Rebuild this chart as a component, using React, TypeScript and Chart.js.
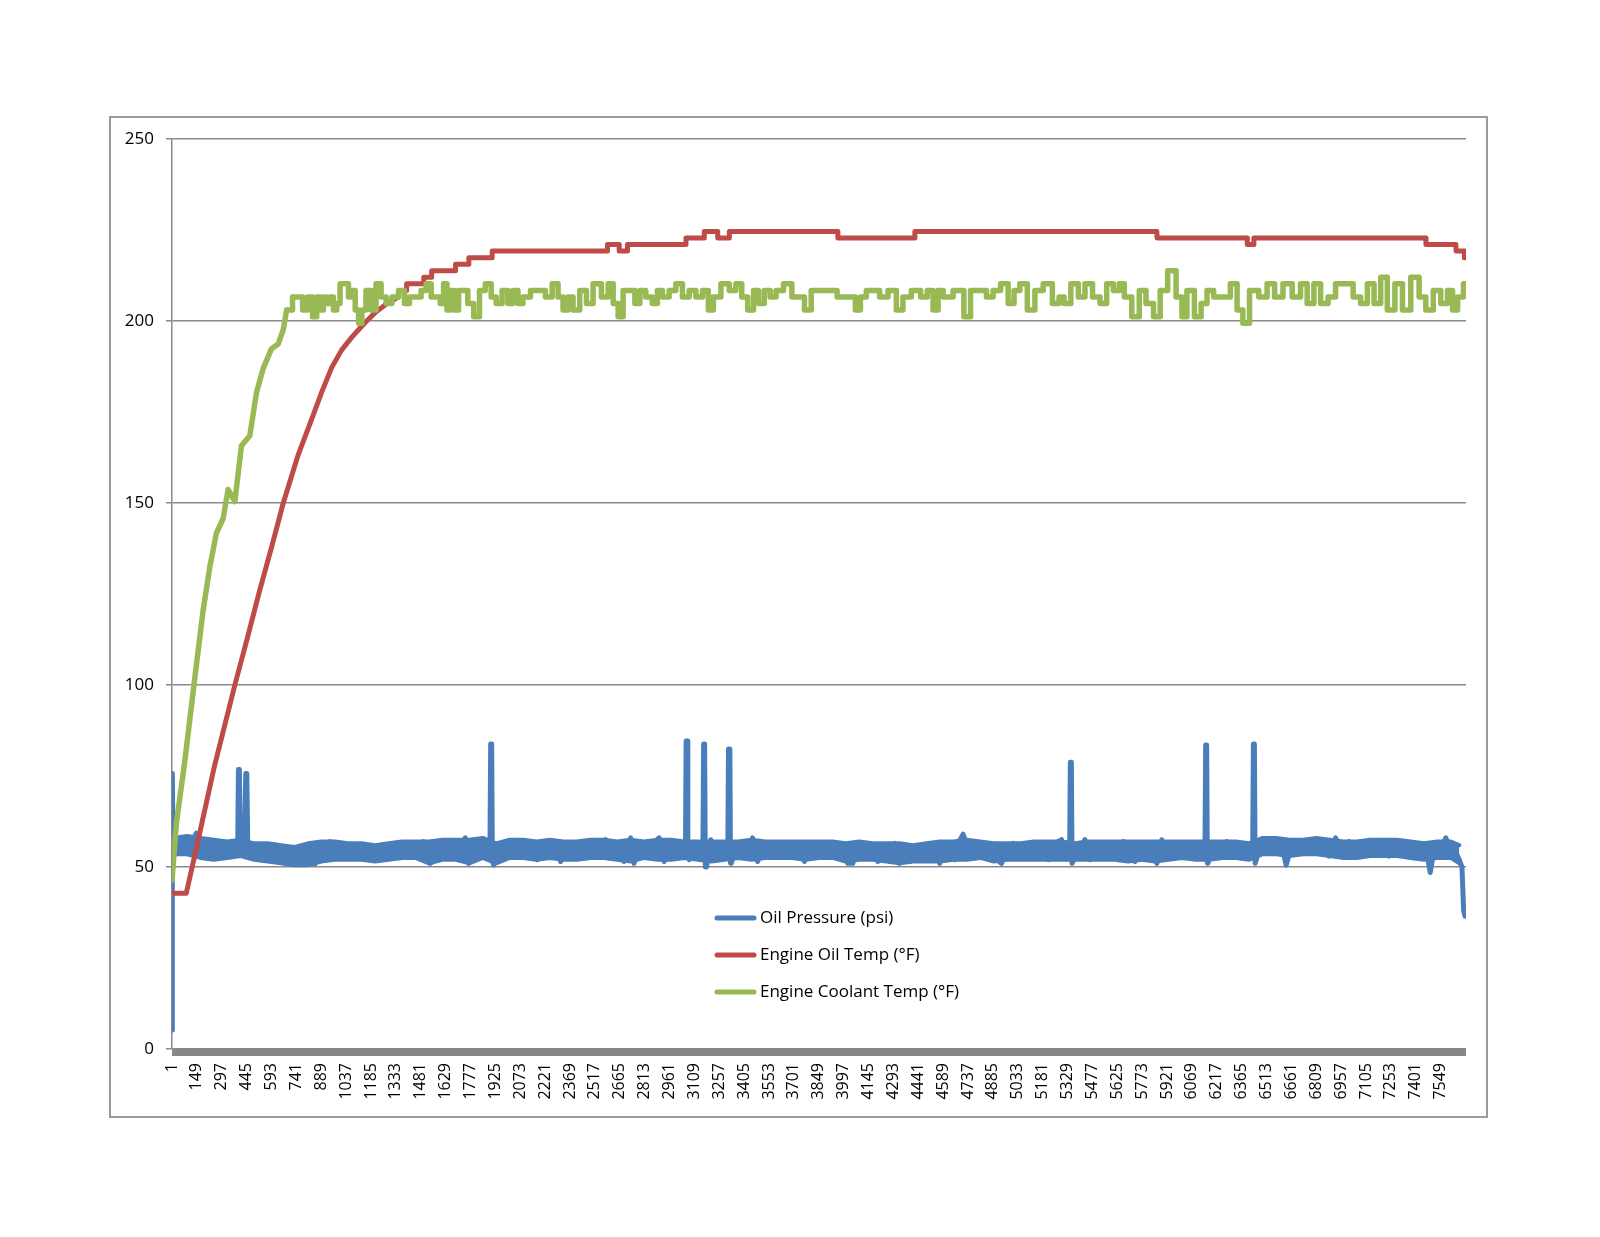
import React, { useEffect, useRef } from 'react';
import { Chart, registerables } from 'chart.js';

Chart.register(...registerables);

// category labels shown on the x axis (every 148th sample)
const sampleTicks = [
  1, 149, 297, 445, 593, 741, 889, 1037, 1185, 1333, 1481, 1629, 1777, 1925, 2073, 2221, 2369,
  2517, 2665, 2813, 2961, 3109, 3257, 3405, 3553, 3701, 3849, 3997, 4145, 4293, 4441, 4589, 4737,
  4885, 5033, 5181, 5329, 5477, 5625, 5773, 5921, 6069, 6217, 6365, 6513, 6661, 6809, 6957, 7105,
  7253, 7401, 7549
];
const valueTicks = [0, 50, 100, 150, 200, 250];
const lastSample = 7700;

// Oil Pressure (psi) - individual readings, spikes included
const oilPressureIdx = [
  1, 3, 7, 47, 87, 126, 146, 166, 206, 236, 265, 295, 325, 365, 392, 396, 402, 406, 430, 440,
  446, 452, 474, 504, 534, 564, 593, 623, 653, 683, 713, 742, 772, 802, 832, 852, 882, 911, 941, 971,
  1001, 1031, 1060, 1100, 1140, 1180, 1220, 1259, 1299, 1339, 1379, 1418, 1458, 1498, 1538, 1567, 1597, 1637, 1677, 1717,
  1746, 1766, 1796, 1836, 1876, 1893, 1897, 1903, 1907, 1915, 1945, 1975, 2015, 2055, 2094, 2134, 2174, 2214, 2253, 2283,
  2313, 2353, 2393, 2432, 2472, 2502, 2532, 2581, 2621, 2660, 2690, 2730, 2750, 2780, 2819, 2859, 2899, 2929, 2968, 3008,
  3038, 3056, 3060, 3066, 3070, 3078, 3108, 3137, 3160, 3164, 3170, 3174, 3181, 3207, 3227, 3247, 3277, 3308, 3312, 3320,
  3324, 3328, 3356, 3396, 3426, 3455, 3485, 3515, 3555, 3585, 3615, 3654, 3694, 3734, 3764, 3793, 3833, 3873, 3913, 3952,
  3982, 4022, 4052, 4082, 4121, 4161, 4201, 4241, 4271, 4300, 4330, 4360, 4390, 4420, 4459, 4499, 4539, 4569, 4599, 4628,
  4658, 4678, 4708, 4738, 4768, 4807, 4847, 4877, 4907, 4937, 4966, 5006, 5046, 5086, 5125, 5165, 5215, 5254, 5294, 5324,
  5342, 5346, 5352, 5356, 5360, 5403, 5433, 5463, 5493, 5523, 5552, 5592, 5632, 5662, 5692, 5731, 5761, 5801, 5831, 5861,
  5890, 5920, 5960, 6000, 6040, 6079, 6109, 6139, 6147, 6151, 6157, 6161, 6165, 6199, 6238, 6278, 6318, 6358, 6397, 6423,
  6431, 6435, 6441, 6445, 6449, 6487, 6527, 6566, 6606, 6630, 6666, 6705, 6745, 6785, 6825, 6855, 6884, 6924, 6964, 7004,
  7043, 7083, 7123, 7163, 7203, 7242, 7282, 7322, 7362, 7401, 7441, 7461, 7487, 7511, 7540, 7580, 7610, 7640, 7660, 7676,
  7686, 7694, 7700
];
const oilPressure = [
  5.2, 75.7, 55, 57, 55, 57.5, 59.3, 54, 53.5, 57, 53, 56, 53.5, 56.5, 55, 76.8, 76.8, 54, 56, 75.7,
  75.7, 55, 54, 54.5, 52.5, 55, 53, 56, 52, 51, 54, 52, 51, 56, 51, 50.8, 56.5, 55, 57, 53,
  55, 53, 56, 54, 55, 53, 52.5, 55.5, 53.5, 56.5, 54, 55.5, 54, 57, 51, 52, 56.5, 57, 53, 56,
  58, 51, 55, 56.5, 57, 56, 83.8, 83.8, 52, 50.5, 55, 53.5, 56.5, 53, 56.5, 54, 52, 56, 53, 57,
  51.5, 56.5, 52.5, 55.5, 53, 57, 53.5, 57.5, 53, 56, 51.5, 58, 51, 56, 54, 56.5, 58, 51.5, 56.5, 55,
  53, 55, 84.6, 84.6, 53, 52, 56.5, 54, 56, 83.8, 83.8, 50, 50, 57.5, 52, 56.5, 54, 55, 82.4, 82.4,
  51, 51, 55, 54, 53, 58, 51.5, 55, 56.5, 54, 56, 53.5, 55, 56, 51.5, 56, 54.5, 56, 55, 56,
  54, 51, 51, 56.5, 55, 56, 51.5, 55, 53, 56.5, 51, 55, 51.5, 55.5, 52, 55.5, 56.5, 51, 56, 53,
  52, 56.5, 59, 55, 53.5, 56.5, 54, 56, 52, 51, 55, 56.5, 53, 55.5, 56.5, 54, 52, 56.5, 57.5, 53,
  55, 78.8, 78.8, 51, 51, 55, 57.5, 52, 55, 53, 56.5, 55, 52, 57, 54, 51.5, 56, 54, 55, 51,
  57.5, 53, 56, 54.5, 55, 52.5, 55.5, 56, 55, 83.5, 83.5, 51, 51, 56.5, 54, 57, 55, 56, 54, 52.5,
  55, 83.8, 83.8, 51, 51, 57, 56, 57, 55.5, 50.5, 56.5, 55.5, 57, 56, 55, 57, 53, 58, 54.5, 57,
  53, 55, 56.5, 54, 56.5, 53, 57, 54, 56, 54.5, 53, 55.5, 48.5, 55, 54, 58, 54.5, 54, 52, 50,
  38, 36.5, 37.5
];

// Oil Pressure (psi) - spread of the dense readings (low / high of the band)
const pressureBandIdx = [
  10, 90, 170, 250, 330, 410, 490, 570, 650, 730, 810, 890, 970, 1050, 1130, 1210, 1290, 1370, 1450, 1530,
  1610, 1690, 1770, 1850, 1930, 2010, 2090, 2170, 2250, 2330, 2410, 2490, 2570, 2650, 2730, 2810, 2890, 2970, 3050, 3130,
  3210, 3290, 3370, 3450, 3530, 3610, 3690, 3770, 3850, 3930, 4010, 4090, 4170, 4250, 4330, 4410, 4490, 4570, 4650, 4730,
  4810, 4890, 4970, 5050, 5130, 5210, 5290, 5370, 5450, 5530, 5610, 5690, 5770, 5850, 5930, 6010, 6090, 6170, 6250, 6330,
  6410, 6490, 6570, 6650, 6730, 6810, 6890, 6970, 7050, 7130, 7210, 7290, 7370, 7450, 7530, 7610, 7660
];
const pressureBandLow = [
  53.5, 53.5, 52.5, 52, 52.5, 53, 52, 51.5, 51, 50.5, 50.5, 51.5, 52, 52, 52, 51.5, 52, 52.5, 52.5, 51,
  52, 52, 51, 52.5, 51, 52.5, 52.5, 52, 52.5, 52, 52, 52.5, 52.5, 52, 51.5, 52.5, 52, 52, 52.5, 52,
  51.5, 52, 52.5, 52, 52.5, 52.5, 52.5, 52, 52.5, 52.5, 51.5, 52, 52, 51.5, 51, 51.5, 51.5, 51.5, 52, 52,
  52.5, 51.5, 52, 52, 52, 52, 52, 52, 52, 52, 52, 51.5, 52, 51.5, 52, 52.5, 52, 52, 52.5, 52.5,
  52, 53.5, 53.5, 53, 53.5, 53.5, 53, 52.5, 52.5, 53, 53, 53, 52.5, 52, 52.5, 52.5, 51
];
const pressureBandHigh = [
  58, 58.5, 58, 57.5, 57, 57.5, 56.5, 56.5, 56, 55.5, 56.5, 57, 57, 56.5, 56.5, 56, 56.5, 57, 57, 57,
  57.5, 57.5, 57.5, 58, 56.5, 57.5, 57.5, 57, 57.5, 57, 57, 57.5, 57.5, 57, 57.5, 57, 57.5, 57.5, 57, 57,
  57, 57, 57, 57.5, 57, 57, 57, 57, 57, 57, 56.5, 57, 56.5, 56.5, 56.5, 56, 56.5, 57, 57, 57.5,
  57, 56.5, 56.5, 56.5, 57, 57, 57, 56.5, 57, 57, 57, 57, 57, 57, 57, 57, 57, 57, 57, 57,
  56.5, 58, 58, 57.5, 57.5, 58, 57.5, 57, 57, 57.5, 57.5, 57.5, 57, 56.5, 57, 57, 56
];

// Engine Oil Temp (°F)
const oilTempIdx = [
  1, 86, 150, 250, 375, 450, 520, 600, 663, 750, 840, 891, 951, 1010, 1070, 1150, 1210, 1280, 1348, 1349,
  1396, 1397, 1498, 1499, 1545, 1546, 1687, 1688, 1766, 1767, 1905, 1906, 2591, 2592, 2661, 2662, 2710, 2711, 3058, 3059,
  3167, 3168, 3247, 3248, 3316, 3317, 3962, 3963, 4420, 4421, 5861, 5862, 6398, 6399, 6437, 6438, 7461, 7462, 7640, 7641,
  7690, 7691, 7700
];
const oilTemp = [
  42.8, 42.8, 56, 77, 100, 113, 125.5, 139, 150, 163, 174, 180.4, 187.2, 192, 195.5, 199.6, 202.3, 204.8, 206.6, 208.4,
  208.4, 210.2, 210.2, 212, 212, 213.8, 213.8, 215.6, 215.6, 217.4, 217.4, 219.2, 219.2, 221, 221, 219.2, 219.2, 221, 221, 222.8,
  222.8, 224.6, 224.6, 222.8, 222.8, 224.6, 224.6, 222.8, 222.8, 224.6, 224.6, 222.8, 222.8, 221, 221, 222.8, 222.8, 221, 221, 219.2,
  219.2, 217.4, 217.4
];

// Engine Coolant Temp (°F) - warm-up
const coolantWarmIdx = [1, 27, 77, 136, 186, 226, 265, 305, 335, 375, 414, 464, 504, 544, 593, 633, 663, 683];
const coolantWarm = [46.4, 62, 79, 101.7, 120.4, 132.4, 141.7, 145.7, 153.7, 150.4, 165.7, 168.5, 180.4, 187, 192.4, 193.7, 197.6, 203];

// Engine Coolant Temp (°F) - running
const coolantIdx = [
  683, 703, 733, 763, 793, 822, 852, 872, 892, 912, 932, 952, 971, 991, 1011, 1041, 1061, 1081, 1101, 1121,
  1140, 1170, 1200, 1230, 1260, 1290, 1329, 1369, 1399, 1429, 1468, 1498, 1528, 1558, 1587, 1607, 1627, 1647, 1667, 1696,
  1716, 1746, 1776, 1816, 1845, 1885, 1915, 1945, 1985, 2014, 2044, 2074, 2104, 2164, 2203, 2243, 2283, 2313, 2342, 2372,
  2402, 2452, 2482, 2531, 2581, 2611, 2641, 2670, 2700, 2740, 2770, 2800, 2839, 2879, 2899, 2939, 2979, 3018, 3058, 3098,
  3138, 3177, 3207, 3237, 3297, 3336, 3376, 3406, 3446, 3476, 3505, 3545, 3575, 3615, 3664, 3714, 3744, 3784, 3824, 3943,
  3973, 4052, 4082, 4112, 4152, 4191, 4231, 4291, 4330, 4370, 4430, 4480, 4509, 4549, 4569, 4609, 4688, 4737, 4767, 4827,
  4867, 4906, 4956, 4996, 5026, 5065, 5115, 5155, 5214, 5264, 5294, 5324, 5374, 5413, 5453, 5503, 5542, 5582, 5622, 5652,
  5682, 5741, 5771, 5821, 5861, 5900, 5950, 6000, 6020, 6059, 6109, 6139, 6179, 6218, 6278, 6318, 6358, 6387, 6437, 6497,
  6536, 6586, 6636, 6696, 6735, 6775, 6815, 6855, 6904, 6944, 7004, 7053, 7093, 7133, 7173, 7212, 7252, 7302, 7342, 7401,
  7441, 7481, 7530, 7570, 7610, 7630, 7670, 7700
];
const coolant = [
  203, 203, 206.6, 206.6, 203, 206.6, 201.2, 206.6, 203, 206.6, 204.8, 206.6, 203, 204.8, 210.2, 210.2, 206.6, 208.4, 203, 199.4,
  203, 208.4, 203, 210.2, 206.6, 204.8, 206.6, 208.4, 204.8, 206.6, 206.6, 208.4, 210.2, 206.6, 206.6, 204.8, 210.2, 203, 208.4, 203,
  208.4, 208.4, 204.8, 201.2, 208.4, 210.2, 206.6, 204.8, 208.4, 204.8, 208.4, 204.8, 206.6, 208.4, 208.4, 206.6, 210.2, 206.6, 203, 206.6,
  203, 208.4, 204.8, 210.2, 206.6, 210.2, 204.8, 201.2, 208.4, 208.4, 204.8, 208.4, 206.6, 204.8, 208.4, 206.6, 208.4, 210.2, 206.6, 208.4,
  206.6, 208.4, 203, 206.6, 210.2, 208.4, 210.2, 206.6, 203, 208.4, 204.8, 208.4, 206.6, 208.4, 210.2, 206.6, 206.6, 203, 208.4, 208.4,
  206.6, 206.6, 203, 206.6, 208.4, 208.4, 206.6, 208.4, 203, 206.6, 208.4, 206.6, 208.4, 203, 208.4, 206.6, 208.4, 201.2, 208.4, 208.4,
  206.6, 208.4, 210.2, 204.8, 208.4, 210.2, 203, 208.4, 210.2, 204.8, 206.6, 204.8, 210.2, 206.6, 210.2, 206.6, 204.8, 210.2, 208.4, 210.2,
  206.6, 201.2, 208.4, 204.8, 201.2, 208.4, 213.8, 206.6, 201.2, 208.4, 201.2, 204.8, 208.4, 206.6, 206.6, 210.2, 203, 199.4, 208.4, 206.6,
  210.2, 206.6, 210.2, 206.6, 210.2, 204.8, 210.2, 204.8, 206.6, 210.2, 210.2, 206.6, 204.8, 210.2, 204.8, 212, 203, 210.2, 203, 212,
  206.6, 203, 208.4, 204.8, 208.4, 203, 206.6, 210.2
];

const seriesNames = ['Oil Pressure (psi)', 'Engine Oil Temp (°F)', 'Engine Coolant Temp (°F)'];
const seriesColors = ['#4A7EBB', '#BE4B48', '#98B954'];

const FONT = '"Open Sans", "Liberation Sans", sans-serif';

const toPoints = (xs: number[], ys: number[]) => xs.map((x, i) => ({ x, y: ys[i] }));

const framePlugin = {
  id: 'excelFrame',
  beforeDraw(chart: Chart) {
    const ctx = chart.ctx;
    ctx.save();
    ctx.fillStyle = '#ffffff';
    ctx.fillRect(0, 0, chart.width, chart.height);
    ctx.strokeStyle = '#9a9a9a';
    ctx.lineWidth = 2;
    ctx.strokeRect(110, 117, 1377, 1000);
    ctx.restore();
  },
  afterDraw(chart: Chart) {
    const ctx = chart.ctx;
    const { left, right, bottom } = chart.chartArea;
    ctx.save();
    // dense category tick marks read as a solid band under the axis
    ctx.fillStyle = '#878787';
    ctx.fillRect(left, bottom, right - left, 7);

    // legend inside the plot
    ctx.font = `17px ${FONT}`;
    ctx.textBaseline = 'middle';
    ctx.textAlign = 'left';
    seriesNames.forEach((name, i) => {
      const y = 918 + i * 37;
      ctx.strokeStyle = seriesColors[i];
      ctx.lineWidth = 5;
      ctx.lineCap = 'round';
      ctx.beginPath();
      ctx.moveTo(717, y);
      ctx.lineTo(754, y);
      ctx.stroke();
      ctx.fillStyle = '#000';
      ctx.fillText(name, 760, y);
    });
    ctx.restore();
  }
};

const EngineChart: React.FC = () => {
  const canvasRef = useRef<HTMLCanvasElement>(null);

  useEffect(() => {
    const canvas = canvasRef.current;
    if (!canvas) return;

    const chart = new Chart(canvas, {
      type: 'line',
      data: {
        datasets: [
          {
            label: 'band high',
            data: toPoints(pressureBandIdx, pressureBandHigh),
            borderColor: seriesColors[0],
            borderWidth: 4,
            order: 6
          },
          {
            label: 'band low',
            data: toPoints(pressureBandIdx, pressureBandLow),
            borderColor: seriesColors[0],
            backgroundColor: seriesColors[0],
            borderWidth: 4,
            fill: '-1',
            order: 5
          },
          {
            label: seriesNames[0],
            data: toPoints(oilPressureIdx, oilPressure),
            borderColor: seriesColors[0],
            borderWidth: 5,
            order: 4
          },
          {
            label: seriesNames[1],
            data: toPoints(oilTempIdx, oilTemp),
            borderColor: seriesColors[1],
            borderWidth: 5,
            order: 3
          },
          {
            label: seriesNames[2],
            data: toPoints(coolantWarmIdx, coolantWarm),
            borderColor: seriesColors[2],
            borderWidth: 5.5,
            order: 2
          },
          {
            label: seriesNames[2],
            data: toPoints(coolantIdx, coolant),
            borderColor: seriesColors[2],
            borderWidth: 5.5,
            stepped: 'middle',
            order: 1
          }
        ]
      },
      options: {
        responsive: false,
        animation: false,
        devicePixelRatio: 1,
        layout: { padding: { left: 110, top: 139, right: 134, bottom: 108 } },
        plugins: {
          legend: { display: false },
          tooltip: { enabled: false }
        },
        elements: {
          point: { radius: 0 },
          line: { tension: 0, borderJoinStyle: 'round', borderCapStyle: 'round' }
        },
        scales: {
          x: {
            type: 'linear',
            min: 1,
            max: lastSample,
            afterBuildTicks: (scale: any) => {
              scale.ticks = sampleTicks.map((v) => ({ value: v }));
            },
            afterFit: (scale: any) => {
              scale.height = 80;
            },
            grid: { display: false, drawTicks: false },
            border: { display: false },
            ticks: {
              autoSkip: false,
              minRotation: 90,
              maxRotation: 90,
              padding: 14,
              color: '#000',
              font: { family: FONT, size: 16 },
              callback: (v: any) => String(v)
            }
          },
          y: {
            min: 0,
            max: 250,
            afterBuildTicks: (scale: any) => {
              scale.ticks = valueTicks.map((v) => ({ value: v }));
            },
            afterFit: (scale: any) => {
              scale.width = 62;
            },
            grid: { color: '#8a8a8a', lineWidth: 1.5, tickLength: 6 },
            border: { color: '#8a8a8a', width: 1.5 },
            ticks: {
              padding: 12,
              color: '#000',
              font: { family: FONT, size: 17 },
              callback: (v: any) => String(v)
            }
          }
        }
      },
      plugins: [framePlugin]
    });

    return () => {
      chart.destroy();
    };
  }, []);

  return (
    <div style={{ position: 'absolute', left: 0, top: 0, width: 1600, height: 1237, background: '#fff' }}>
      <canvas ref={canvasRef} width={1600} height={1237} />
    </div>
  );
};

export default function App() {
  return <EngineChart />;
}
